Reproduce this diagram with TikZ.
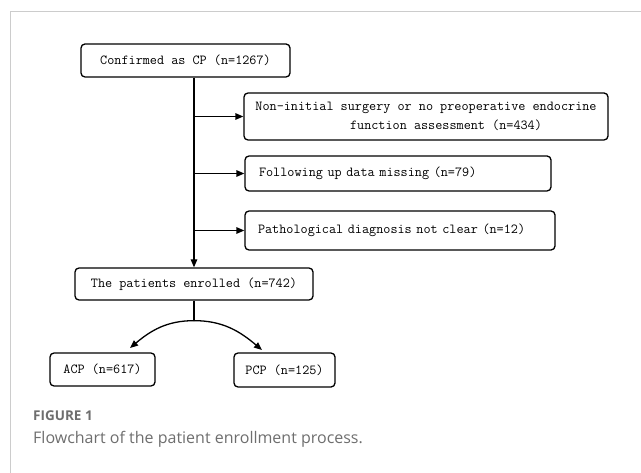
\documentclass[tikz,border=0pt]{standalone}
\usepackage{fontspec}
\setmonofont{Latin Modern Mono}
\newfontfamily\capfont{Open Sans}
\usetikzlibrary{arrows.meta,calc}
\definecolor{framegray}{HTML}{CCCCCC}
\definecolor{capgray}{HTML}{6E6E6E}
\begin{document}
\begin{tikzpicture}[x=1bp,y=-1bp,
  box/.style={draw=black,line width=1.3bp,rounded corners=4bp,inner sep=0pt,font=\ttfamily\fontsize{13.8bp}{19bp}\selectfont},
  arr/.style={line width=1.3bp,-{Triangle[length=8bp,width=6.5bp]}},
  ln/.style={line width=1.3bp}]
\useasboundingbox (0,0) rectangle (641,473);
\draw[framegray,line width=1bp] (10,473) -- (10,12) -- (641,12);
\node[box,minimum width=209bp,minimum height=33bp] (b1) at (185.5,60.5) {Confirmed as CP (n=1267)};
\node[box,minimum width=364bp,minimum height=47bp,align=center] (b2) at (426,116.5) {Non-initial surgery or no preoperative endocrine\\\hspace*{40bp}function assessment (n=434)};
\node[box,minimum height=35bp,text width=278bp,inner xsep=14bp,align=left] (b3) at (398,173.5) {Following up data missing (n=79)};
\node[box,minimum height=39bp,text width=284bp,inner xsep=13bp,align=left] (b4) at (400,230.5) {Pathological diagnosis not clear (n=12)};
\node[box,minimum width=238bp,minimum height=32bp] (b5) at (194,284) {The patients enrolled (n=742)};
\node[box,minimum width=105bp,minimum height=33bp] (acp) at (102.5,369.5) {ACP (n=617)};
\node[box,minimum width=101bp,minimum height=34bp] (pcp) at (284.5,370) {PCP (n=125)};
\draw[arr] (b5.north |- b1.south) -- (b5.north);
\draw[arr] (b5.north |- b2.west) -- (b2.west);
\draw[arr] (b5.north |- b3.west) -- (b3.west);
\draw[arr] (b5.north |- b4.west) -- (b4.west);
\coordinate (sp) at ($(b5.south)+(0,20)$);
\coordinate (ta) at (130,348);
\coordinate (tp) at (262,350);
\draw[ln] (b5.south) -- (sp);
\draw[arr] (sp) to[out=180,in=40] (ta);
\draw[arr] (sp) to[out=0,in=140] (tp);
\node[anchor=west,inner sep=0pt,text=capgray,font=\capfont\bfseries\fontsize{13.5bp}{15bp}\selectfont] (fig) at (33,416) {FIGURE 1};
\node[anchor=west,inner sep=0pt,text=capgray,font=\capfont\fontsize{16bp}{19bp}\selectfont] (cap) at (33,439) {Flowchart of the patient enrollment process.};
\end{tikzpicture}
\end{document}
